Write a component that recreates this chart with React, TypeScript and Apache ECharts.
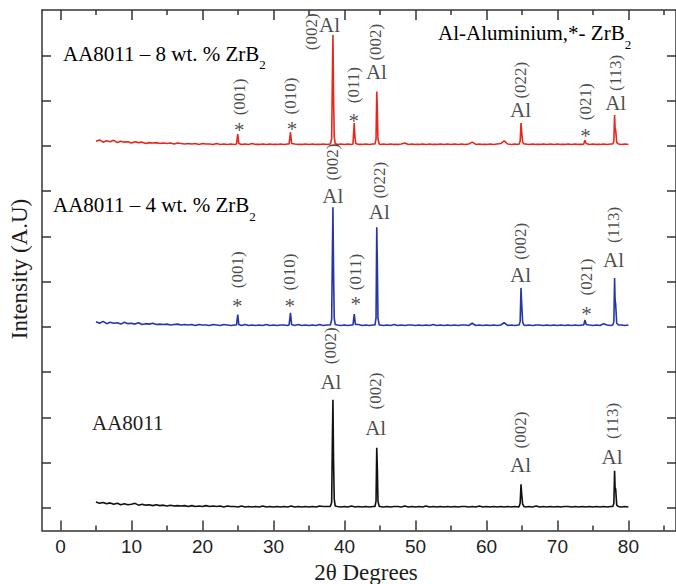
import React, { useEffect, useRef } from 'react';
import * as echarts from 'echarts';

// ---------- data ----------
const X_START = 5;
const X_STEP = 0.5;

// baseline intensities (relative to each trace's offset), 5° .. 80° every 0.5°
const BLACK_BASE = [
  0.13, 0.10, 0.12, 0.09, 0.11, 0.08, 0.10, 0.07, 0.09, 0.07, 0.08, 0.10, 0.06, 0.08, 0.06, 0.07, 0.05, 0.07, 0.05, 0.06,
  0.04, 0.06, 0.04, 0.05, 0.04, 0.05, 0.03, 0.05, 0.03, 0.04, 0.03, 0.05, 0.03, 0.04, 0.03, 0.04, 0.02, 0.04, 0.03, 0.03,
  0.02, 0.04, 0.02, 0.03, 0.02, 0.03, 0.02, 0.04, 0.02, 0.03, 0.02, 0.03, 0.02, 0.03, 0.02, 0.04, 0.02, 0.03, 0.02, 0.03,
  0.02, 0.03, 0.02, 0.04, 0.03, 0.03, 0.03, 0.02, 0.03, 0.02, 0.03, 0.02, 0.04, 0.02, 0.03, 0.02, 0.03, 0.02, 0.03, 0.02,
  0.03, 0.02, 0.03, 0.02, 0.03, 0.03, 0.02, 0.04, 0.02, 0.03, 0.02, 0.03, 0.02, 0.04, 0.02, 0.03, 0.02, 0.03, 0.02, 0.03,
  0.02, 0.03, 0.02, 0.03, 0.03, 0.02, 0.03, 0.02, 0.04, 0.02, 0.03, 0.02, 0.03, 0.02, 0.03, 0.02, 0.03, 0.02, 0.03, 0.02,
  0.03, 0.02, 0.03, 0.02, 0.04, 0.02, 0.03, 0.02, 0.03, 0.02, 0.03, 0.02, 0.03, 0.03, 0.02, 0.03, 0.02, 0.03, 0.02, 0.03,
  0.02, 0.03, 0.02, 0.03, 0.02, 0.03, 0.02, 0.03, 0.02, 0.03, 0.02,
];
const BLUE_BASE = [
  0.11, 0.08, 0.12, 0.07, 0.10, 0.08, 0.09, 0.06, 0.10, 0.07, 0.08, 0.06, 0.09, 0.05, 0.07, 0.06, 0.08, 0.05, 0.06, 0.05,
  0.06, 0.04, 0.05, 0.06, 0.04, 0.05, 0.04, 0.05, 0.03, 0.05, 0.04, 0.04, 0.03, 0.05, 0.04, 0.03, 0.05, 0.04, 0.03, 0.04,
  0.04, 0.03, 0.05, 0.03, 0.04, 0.03, 0.04, 0.03, 0.05, 0.03, 0.04, 0.03, 0.04, 0.04, 0.03, 0.04, 0.03, 0.05, 0.03, 0.04,
  0.03, 0.04, 0.03, 0.05, 0.03, 0.04, 0.03, 0.04, 0.04, 0.03, 0.04, 0.03, 0.04, 0.03, 0.05, 0.03, 0.04, 0.03, 0.04, 0.03,
  0.04, 0.03, 0.04, 0.03, 0.05, 0.03, 0.04, 0.03, 0.04, 0.04, 0.03, 0.04, 0.03, 0.04, 0.03, 0.05, 0.03, 0.04, 0.03, 0.04,
  0.03, 0.04, 0.03, 0.04, 0.04, 0.03, 0.08, 0.03, 0.04, 0.03, 0.04, 0.03, 0.04, 0.03, 0.04, 0.09, 0.03, 0.04, 0.03, 0.04,
  0.04, 0.03, 0.04, 0.03, 0.04, 0.04, 0.03, 0.04, 0.03, 0.04, 0.03, 0.04, 0.03, 0.04, 0.03, 0.04, 0.03, 0.04, 0.03, 0.04,
  0.03, 0.04, 0.03, 0.07, 0.04, 0.03, 0.04, 0.03, 0.04, 0.03, 0.04,
];
const RED_BASE = [
  0.10, 0.13, 0.08, 0.11, 0.09, 0.12, 0.07, 0.10, 0.08, 0.09, 0.06, 0.09, 0.07, 0.08, 0.05, 0.07, 0.06, 0.07, 0.05, 0.06,
  0.05, 0.06, 0.04, 0.06, 0.05, 0.04, 0.05, 0.04, 0.05, 0.03, 0.05, 0.04, 0.04, 0.03, 0.05, 0.03, 0.04, 0.03, 0.04, 0.03,
  0.04, 0.03, 0.04, 0.03, 0.05, 0.03, 0.03, 0.04, 0.03, 0.04, 0.03, 0.03, 0.04, 0.03, 0.04, 0.03, 0.04, 0.03, 0.03, 0.04,
  0.03, 0.04, 0.03, 0.03, 0.04, 0.03, 0.04, 0.03, 0.03, 0.04, 0.03, 0.04, 0.03, 0.04, 0.03, 0.03, 0.04, 0.03, 0.04, 0.03,
  0.03, 0.04, 0.03, 0.04, 0.03, 0.03, 0.04, 0.06, 0.03, 0.04, 0.03, 0.03, 0.04, 0.03, 0.04, 0.03, 0.03, 0.04, 0.03, 0.04,
  0.03, 0.04, 0.03, 0.04, 0.03, 0.04, 0.08, 0.03, 0.04, 0.03, 0.03, 0.04, 0.03, 0.04, 0.05, 0.11, 0.04, 0.03, 0.04, 0.03,
  0.03, 0.04, 0.03, 0.04, 0.03, 0.03, 0.04, 0.03, 0.04, 0.03, 0.04, 0.03, 0.03, 0.04, 0.03, 0.04, 0.03, 0.03, 0.04, 0.03,
  0.04, 0.03, 0.03, 0.04, 0.03, 0.04, 0.03, 0.04, 0.03, 0.04, 0.03,
];

// vertical stacking offsets of the three patterns
const BLACK_OFFSET = 0;
const BLUE_OFFSET = 4;
const RED_OFFSET = 8;

// diffraction peaks: [2θ, relative intensity] points
const BLACK_PEAKS: number[][][] = [
  [[38.0, 0.03], [38.2, 0.12], [38.3, 1.5], [38.38, 2.39], [38.46, 1.1], [38.56, 0.2], [38.7, 0.04]],
  [[44.3, 0.03], [44.45, 0.15], [44.55, 1.33], [44.63, 0.9], [44.72, 0.15], [44.9, 0.03]],
  [[64.6, 0.03], [64.75, 0.1], [64.87, 0.52], [64.97, 0.3], [65.1, 0.08], [65.3, 0.03]],
  [[77.8, 0.03], [77.95, 0.1], [78.05, 0.82], [78.12, 0.45], [78.2, 0.42], [78.35, 0.06], [78.6, 0.03]],
];
const BLUE_PEAKS: number[][][] = [
  [[24.8, 0.04], [24.97, 0.27], [25.12, 0.05]],
  [[32.2, 0.04], [32.4, 0.31], [32.55, 0.05]],
  [[38.0, 0.04], [38.2, 0.15], [38.3, 1.6], [38.38, 2.64], [38.46, 1.3], [38.56, 0.2], [38.7, 0.05]],
  [[41.2, 0.04], [41.38, 0.28], [41.55, 0.05]],
  [[44.3, 0.04], [44.45, 0.2], [44.55, 2.2], [44.63, 1.45], [44.72, 0.2], [44.9, 0.04]],
  [[64.6, 0.04], [64.75, 0.12], [64.87, 0.86], [64.97, 0.5], [65.1, 0.1], [65.3, 0.04]],
  [[73.7, 0.04], [73.88, 0.15], [74.05, 0.05]],
  [[77.8, 0.04], [77.95, 0.12], [78.05, 1.08], [78.12, 0.6], [78.2, 0.5], [78.35, 0.08], [78.6, 0.04]],
];
const RED_PEAKS: number[][][] = [
  [[24.8, 0.04], [24.97, 0.26], [25.12, 0.05]],
  [[32.2, 0.04], [32.4, 0.3], [32.55, 0.05]],
  [[38.0, 0.04], [38.2, 0.15], [38.3, 1.5], [38.38, 2.45], [38.46, 1.2], [38.56, 0.2], [38.7, 0.05]],
  [[41.2, 0.04], [41.38, 0.5], [41.48, 0.2], [41.6, 0.05]],
  [[44.3, 0.04], [44.45, 0.15], [44.55, 1.2], [44.63, 0.8], [44.72, 0.15], [44.9, 0.04]],
  [[64.6, 0.04], [64.75, 0.1], [64.87, 0.5], [64.97, 0.3], [65.1, 0.08], [65.3, 0.04]],
  [[73.7, 0.04], [73.88, 0.12], [74.05, 0.05]],
  [[77.8, 0.04], [77.95, 0.1], [78.05, 0.68], [78.12, 0.4], [78.2, 0.35], [78.35, 0.07], [78.6, 0.04]],
];

// annotations in data coordinates: [2θ, intensity, text]
const MILLER_LABELS: [number, number, string][] = [
  [35.4, 10.52, '(002)'], [25.2, 9.08, '(001)'], [32.45, 9.1, '(010)'], [41.3, 9.34, '(011)'],
  [44.4, 10.29, '(002)'], [64.8, 9.45, '(022)'], [73.95, 8.97, '(021)'], [78.2, 9.61, '(113)'],
  [38.35, 7.64, '(002)'], [44.9, 7.24, '(022)'], [24.9, 5.26, '(001)'], [32.2, 5.21, '(010)'],
  [41.6, 5.21, '(011)'], [64.8, 5.89, '(002)'], [74.1, 5.1, '(021)'], [77.9, 6.25, '(113)'],
  [38.1, 3.58, '(002)'], [44.4, 2.58, '(002)'], [64.8, 1.72, '(002)'], [77.7, 1.92, '(113)'],
];
const AL_LABELS: [number, number, string][] = [
  [37.9, 10.67, 'Al'], [44.5, 9.63, 'Al'], [64.8, 8.79, 'Al'], [78.2, 8.95, 'Al'],
  [38.35, 6.89, 'Al'], [44.9, 6.54, 'Al'], [64.8, 5.15, 'Al'], [77.9, 5.48, 'Al'],
  [38.1, 2.78, 'Al'], [44.4, 1.77, 'Al'], [64.8, 0.94, 'Al'], [77.7, 1.12, 'Al'],
];
const STAR_LABELS: [number, number, string][] = [
  [25.2, 8.48, '*'], [32.6, 8.5, '*'], [41.3, 8.68, '*'], [73.95, 8.35, '*'],
  [24.9, 4.59, '*'], [32.3, 4.59, '*'], [41.6, 4.64, '*'], [74.1, 4.42, '*'],
];

const SAMPLE_NAMES = ['AA8011 – 8 wt. % ZrB', 'AA8011 – 4 wt. % ZrB', 'AA8011'];
const LEGEND_TEXT = 'Al-Aluminium,*- ZrB';
const X_TITLE = '2θ Degrees';
const Y_TITLE = 'Intensity (A.U)';

const X_MAJOR_TICKS = [0, 10, 20, 30, 40, 50, 60, 70, 80];
const X_MINOR_TICKS = [5, 15, 25, 35, 45, 55, 65, 75, 85];
const Y_TICKS = [0, 1, 2, 3, 4, 5, 6, 7, 8, 9, 10];
const X_MIN = -2.6;
const X_MAX = 86.7;
const Y_MIN = -0.5;
const Y_MAX = 11;

// ---------- helpers ----------
function buildTrace(base: number[], peaks: number[][][], offset: number): number[][] {
  const pts: number[][] = [];
  base.forEach((v, i) => {
    const x = X_START + i * X_STEP;
    const inPeak = peaks.some((p) => x >= p[0][0] && x <= p[p.length - 1][0]);
    if (!inPeak) pts.push([x, v + offset]);
  });
  peaks.forEach((p) => p.forEach(([x, v]) => pts.push([x, v + offset])));
  pts.sort((a, b) => a[0] - b[0]);
  return pts;
}

const SERIF = '"Liberation Serif", "Times New Roman", serif';
const SANS = '"Liberation Sans", Arial, sans-serif';
const TEXT_COLOR = '#1c1c1c';
const AXIS_COLOR = '#333';

const subRich = {
  m: { fontFamily: SERIF, fontSize: 21, color: TEXT_COLOR, verticalAlign: 'middle' },
  s: { fontFamily: SERIF, fontSize: 13, color: TEXT_COLOR, verticalAlign: 'middle', padding: [22, 0, 0, 0] },
};

function labelSeries(items: [number, number, string][], fontSize: number, rotate: number, dy = 0) {
  return {
    type: 'scatter',
    symbolSize: 0,
    silent: true,
    z: 6,
    emphasis: { disabled: true },
    data: items.map(([x, y, t]) => ({ name: t, value: [x, y] })),
    label: {
      show: true,
      position: 'inside',
      rotate,
      offset: [0, dy],
      formatter: '{b}',
      fontFamily: SERIF,
      fontSize,
      color: TEXT_COLOR,
    },
  };
}

function xAxisDef(position: 'top' | 'bottom', ticks: number[], len: number, showLine: boolean, showLabels: boolean) {
  return {
    type: 'value',
    position,
    min: X_MIN,
    max: X_MAX,
    axisLine: { show: showLine, onZero: false, lineStyle: { color: AXIS_COLOR, width: 1.5 } },
    axisTick: { show: true, inside: true, length: len, customValues: ticks, lineStyle: { color: AXIS_COLOR, width: 1.5 } },
    axisLabel: {
      show: showLabels,
      customValues: X_MAJOR_TICKS,
      fontFamily: SANS,
      fontSize: 19,
      color: '#222',
      margin: 6,
    },
    splitLine: { show: false },
  };
}

function yAxisDef(position: 'left' | 'right') {
  return {
    type: 'value',
    position,
    min: Y_MIN,
    max: Y_MAX,
    axisLine: { show: true, onZero: false, lineStyle: { color: AXIS_COLOR, width: 1.5 } },
    axisTick: { show: true, inside: true, length: 9, customValues: Y_TICKS, lineStyle: { color: AXIS_COLOR, width: 1.5 } },
    axisLabel: { show: false },
    splitLine: { show: false },
  };
}

export default function App() {
  const ref = useRef<HTMLDivElement>(null);

  useEffect(() => {
    if (!ref.current) return;
    const chart = echarts.init(ref.current, null, { renderer: 'svg' });

    const option: any = {
      animation: false,
      backgroundColor: '#ffffff',
      grid: { left: 42, top: 10, right: -3, bottom: 53.5, containLabel: false },
      xAxis: [
        xAxisDef('bottom', X_MAJOR_TICKS, 10, true, true),
        xAxisDef('bottom', X_MINOR_TICKS, 5, false, false),
        xAxisDef('top', X_MAJOR_TICKS, 10, true, false),
        xAxisDef('top', X_MINOR_TICKS, 5, false, false),
      ],
      yAxis: [yAxisDef('left'), yAxisDef('right')],
      series: [
        {
          type: 'line', name: 'AA8011', silent: true, showSymbol: false, symbol: 'none',
          data: buildTrace(BLACK_BASE, BLACK_PEAKS, BLACK_OFFSET),
          lineStyle: { color: '#111111', width: 1.6 },
        },
        {
          type: 'line', name: 'AA8011 – 4 wt. % ZrB2', silent: true, showSymbol: false, symbol: 'none',
          data: buildTrace(BLUE_BASE, BLUE_PEAKS, BLUE_OFFSET),
          lineStyle: { color: '#2536a8', width: 1.6 },
        },
        {
          type: 'line', name: 'AA8011 – 8 wt. % ZrB2', silent: true, showSymbol: false, symbol: 'none',
          data: buildTrace(RED_BASE, RED_PEAKS, RED_OFFSET),
          lineStyle: { color: '#e8261c', width: 1.6 },
        },
        labelSeries(MILLER_LABELS, 17, 90),
        labelSeries(AL_LABELS, 21, 0),
        labelSeries(STAR_LABELS, 21, 0, 6),
      ],
      graphic: [
        {
          type: 'text', x: 63, y: 53.5, silent: true,
          style: { text: `{m|${SAMPLE_NAMES[0]}}{s|2}`, rich: subRich, align: 'left', verticalAlign: 'middle' },
        },
        {
          type: 'text', x: 53, y: 205, silent: true,
          style: { text: `{m|${SAMPLE_NAMES[1]}}{s|2}`, rich: subRich, align: 'left', verticalAlign: 'middle' },
        },
        {
          type: 'text', x: 92, y: 423, silent: true,
          style: { text: SAMPLE_NAMES[2], font: `21px ${SERIF}`, fill: TEXT_COLOR, align: 'left', verticalAlign: 'middle' },
        },
        {
          type: 'text', x: 438, y: 33, silent: true,
          style: { text: `{m|${LEGEND_TEXT}}{s|2}`, rich: subRich, align: 'left', verticalAlign: 'middle' },
        },
        {
          type: 'text', x: 366, y: 572, silent: true,
          style: { text: X_TITLE, font: `23px ${SERIF}`, fill: TEXT_COLOR, align: 'center', verticalAlign: 'middle' },
        },
        {
          type: 'text', x: 19, y: 269, rotation: Math.PI / 2, silent: true,
          style: { text: Y_TITLE, font: `23px ${SERIF}`, fill: TEXT_COLOR, align: 'center', verticalAlign: 'middle' },
        },
      ],
    };

    chart.setOption(option);
    return () => chart.dispose();
  }, []);

  return (
    <div
      ref={ref}
      style={{ position: 'fixed', left: 0, top: 0, width: 676, height: 584, background: '#fff' }}
    />
  );
}
